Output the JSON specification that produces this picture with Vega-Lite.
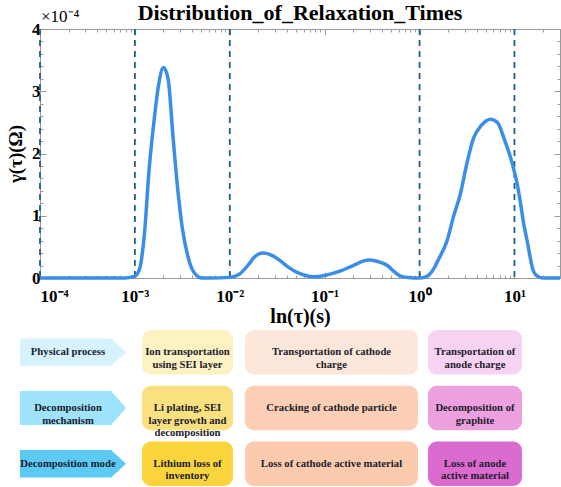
{
  "$schema": "https://vega.github.io/schema/vega-lite/v6.json",
  "background": "white",
  "padding": {"left": 6, "top": 1, "right": 0, "bottom": 0},
  "spacing": 3,
  "config": {"font": "Liberation Serif", "view": {"stroke": null}, "axis": {"grid": false}},
  "datasets": {
    "curve": [
      {"tau": 0.0001, "gamma": 0},
      {"tau": 0.000316, "gamma": 0},
      {"tau": 0.000794, "gamma": 0},
      {"tau": 0.000891, "gamma": 0.000001},
      {"tau": 0.001, "gamma": 0.000003},
      {"tau": 0.001122, "gamma": 0.000015},
      {"tau": 0.001259, "gamma": 0.00007},
      {"tau": 0.001413, "gamma": 0.000175},
      {"tau": 0.001585, "gamma": 0.00025},
      {"tau": 0.001778, "gamma": 0.00031},
      {"tau": 0.001995, "gamma": 0.000338},
      {"tau": 0.002239, "gamma": 0.00032},
      {"tau": 0.002512, "gamma": 0.00023},
      {"tau": 0.002818, "gamma": 0.000145},
      {"tau": 0.003162, "gamma": 0.00008},
      {"tau": 0.003548, "gamma": 0.00004},
      {"tau": 0.003981, "gamma": 0.000015},
      {"tau": 0.004467, "gamma": 0.000004},
      {"tau": 0.005012, "gamma": 0},
      {"tau": 0.00631, "gamma": 0},
      {"tau": 0.01, "gamma": 0.000001},
      {"tau": 0.01259, "gamma": 0.000006},
      {"tau": 0.01585, "gamma": 0.000022},
      {"tau": 0.01778, "gamma": 0.000032},
      {"tau": 0.02239, "gamma": 0.00004},
      {"tau": 0.02818, "gamma": 0.000036},
      {"tau": 0.03388, "gamma": 0.000028},
      {"tau": 0.04169, "gamma": 0.000017},
      {"tau": 0.05129, "gamma": 0.000009},
      {"tau": 0.0631, "gamma": 0.000004},
      {"tau": 0.07586, "gamma": 0.000002},
      {"tau": 0.1, "gamma": 0.000004},
      {"tau": 0.1445, "gamma": 0.000011},
      {"tau": 0.1995, "gamma": 0.00002},
      {"tau": 0.2884, "gamma": 0.000029},
      {"tau": 0.3548, "gamma": 0.000027},
      {"tau": 0.4571, "gamma": 0.00002},
      {"tau": 0.5623, "gamma": 0.000008},
      {"tau": 0.631, "gamma": 0.000003},
      {"tau": 0.7943, "gamma": 0.0000005},
      {"tau": 1, "gamma": 0},
      {"tau": 1.122, "gamma": 0.000001},
      {"tau": 1.259, "gamma": 0.000005},
      {"tau": 1.413, "gamma": 0.000015},
      {"tau": 1.585, "gamma": 0.00003},
      {"tau": 1.95, "gamma": 0.00006},
      {"tau": 2.291, "gamma": 0.0001},
      {"tau": 2.692, "gamma": 0.000135},
      {"tau": 3.162, "gamma": 0.000185},
      {"tau": 3.715, "gamma": 0.000225},
      {"tau": 4.467, "gamma": 0.000245},
      {"tau": 5.623, "gamma": 0.000255},
      {"tau": 6.607, "gamma": 0.00025},
      {"tau": 7.943, "gamma": 0.00022},
      {"tau": 9.12, "gamma": 0.000193},
      {"tau": 10, "gamma": 0.00017},
      {"tau": 10.72, "gamma": 0.00015},
      {"tau": 11.48, "gamma": 0.000124},
      {"tau": 12.59, "gamma": 0.000085},
      {"tau": 13.8, "gamma": 0.000055},
      {"tau": 14.79, "gamma": 0.00003},
      {"tau": 15.85, "gamma": 0.000011},
      {"tau": 17.78, "gamma": 0.000002},
      {"tau": 19.95, "gamma": 0},
      {"tau": 30.2, "gamma": 0}
    ],
    "bounds": [
      {"tau": 0.0001}, {"tau": 0.001}, {"tau": 0.01}, {"tau": 1}, {"tau": 10}
    ],
    "rows": [
      {"row": "Physical process", "label": "Physical process", "arrowMid": 73, "textMid": 68},
      {"row": "Decomposition mechanism", "label": "Decomposition\nmechanism", "arrowMid": 73, "textMid": 68},
      {"row": "Decomposition mode", "label": "Decomposition mode", "arrowMid": 73, "textMid": 68}
    ],
    "cells": [
      {"cell": "r1c1", "row": "Physical process", "start": 142, "end": 233, "label": "Ion transportation\nusing SEI layer"},
      {"cell": "r1c2", "row": "Physical process", "start": 245, "end": 418, "label": "Transportation of cathode\ncharge"},
      {"cell": "r1c3", "row": "Physical process", "start": 428, "end": 522, "label": "Transportation of\nanode charge"},
      {"cell": "r2c1", "row": "Decomposition mechanism", "start": 142, "end": 233, "label": "Li plating, SEI\nlayer growth and\ndecomposition"},
      {"cell": "r2c2", "row": "Decomposition mechanism", "start": 245, "end": 418, "label": "Cracking of cathode particle"},
      {"cell": "r2c3", "row": "Decomposition mechanism", "start": 428, "end": 522, "label": "Decomposition of\ngraphite"},
      {"cell": "r3c1", "row": "Decomposition mode", "start": 142, "end": 233, "label": "Lithium loss of\ninventory"},
      {"cell": "r3c2", "row": "Decomposition mode", "start": 245, "end": 418, "label": "Loss of cathode active material"},
      {"cell": "r3c3", "row": "Decomposition mode", "start": 428, "end": 522, "label": "Loss of anode\nactive material"}
    ]
  },
  "vconcat": [
    {
      "width": 520,
      "height": 249,
      "title": {"text": "Distribution_of_Relaxation_Times", "font": "Liberation Serif", "fontSize": 22, "fontWeight": "bold", "color": "#000000", "anchor": "middle", "offset": -17},
      "view": {"stroke": "#9a9a9a", "strokeWidth": 1},
      "layer": [
        {
          "data": {"name": "bounds"},
          "mark": {"type": "rule", "strokeDash": [6, 5], "strokeWidth": 1.8, "color": "#1d6383"},
          "encoding": {
            "x": {
              "field": "tau", "type": "quantitative",
              "scale": {"type": "log", "domain": [0.0001, 30.2], "nice": false},
              "axis": {
                "orient": "top", "title": null, "labels": false, "domain": false,
                "values": [0.0001,0.0002,0.0003,0.0004,0.0005,0.0006,0.0007,0.0008,0.0009,0.001,0.002,0.003,0.004,0.005,0.006,0.007,0.008,0.009,0.01,0.02,0.03,0.04,0.05,0.06,0.07,0.08,0.09,0.1,0.2,0.3,0.4,0.5,0.6,0.7,0.8,0.9,1,2,3,4,5,6,7,8,9,10,20,30],
                "tickColor": "#9a9a9a",
                "tickSize": {"condition": {"test": "datum.value==0.0001||datum.value==0.001||datum.value==0.01||datum.value==0.1||datum.value==1||datum.value==10", "value": -6}, "value": -3}
              }
            }
          }
        },
        {
          "data": {"name": "curve"},
          "mark": {"type": "line", "color": "#3b8ee8", "strokeWidth": 3.5, "interpolate": "monotone"},
          "encoding": {
            "x": {
              "field": "tau", "type": "quantitative",
              "scale": {"type": "log", "domain": [0.0001, 30.2], "nice": false},
              "axis": {
                "orient": "bottom",
                "title": "ln(τ)(s)", "titleFont": "Liberation Serif", "titleFontSize": 20, "titleFontWeight": "bold", "titleColor": "#000000", "titlePadding": 2,
                "domainColor": "#9a9a9a", "tickColor": "#9a9a9a",
                "labelFont": "Liberation Serif", "labelFontSize": 17, "labelFontWeight": "bold", "labelColor": "#000000", "labelPadding": 16,
                "values": [0.0001,0.0002,0.0003,0.0004,0.0005,0.0006,0.0007,0.0008,0.0009,0.001,0.002,0.003,0.004,0.005,0.006,0.007,0.008,0.009,0.01,0.02,0.03,0.04,0.05,0.06,0.07,0.08,0.09,0.1,0.2,0.3,0.4,0.5,0.6,0.7,0.8,0.9,1,2,3,4,5,6,7,8,9,10,20,30],
                "labelExpr": "datum.value==0.0001?'10⁻⁴':datum.value==0.001?'10⁻³':datum.value==0.01?'10⁻²':datum.value==0.1?'10⁻¹':datum.value==1?'10⁰':datum.value==10?'10¹':''",
                "tickSize": {"condition": {"test": "datum.value==0.0001||datum.value==0.001||datum.value==0.01||datum.value==0.1||datum.value==1||datum.value==10", "value": -6}, "value": -3}
              }
            },
            "y": {
              "field": "gamma", "type": "quantitative",
              "scale": {"domain": [0, 0.0004], "nice": false},
              "axis": {
                "orient": "left",
                "title": "γ(τ)(Ω)", "titleFont": "Liberation Serif", "titleFontSize": 19, "titleFontWeight": "bold", "titleColor": "#000000", "titlePadding": 6,
                "domainColor": "#9a9a9a", "tickColor": "#9a9a9a",
                "labelFont": "Liberation Serif", "labelFontSize": 17, "labelFontWeight": "bold", "labelColor": "#000000", "labelPadding": 6,
                "values": [0,0.00002,0.00004,0.00006,0.00008,0.0001,0.00012,0.00014,0.00016,0.00018,0.0002,0.00022,0.00024,0.00026,0.00028,0.0003,0.00032,0.00034,0.00036,0.00038,0.0004],
                "labelExpr": "abs(datum.value*10000-round(datum.value*10000))<0.000001 ? format(round(datum.value*10000),'d') : ''",
                "tickSize": {"condition": {"test": "abs(datum.value*10000-round(datum.value*10000))<0.000001", "value": -6}, "value": -3}
              }
            }
          }
        },
        {
          "data": {"values": [{"tau": 0.0001, "gamma": 0.0004, "label": "×10⁻⁴"}]},
          "mark": {"type": "text", "align": "left", "baseline": "bottom", "dx": 1, "dy": -3, "font": "Liberation Serif", "fontSize": 17, "color": "#000000"},
          "encoding": {
            "x": {"field": "tau", "type": "quantitative", "scale": {"type": "log", "domain": [0.0001, 30.2], "nice": false}, "axis": null},
            "y": {
              "field": "gamma", "type": "quantitative",
              "scale": {"domain": [0, 0.0004], "nice": false},
              "axis": {
                "orient": "right", "title": null, "labels": false, "domain": false, "tickColor": "#9a9a9a",
                "values": [0,0.00002,0.00004,0.00006,0.00008,0.0001,0.00012,0.00014,0.00016,0.00018,0.0002,0.00022,0.00024,0.00026,0.00028,0.0003,0.00032,0.00034,0.00036,0.00038,0.0004],
                "tickSize": {"condition": {"test": "abs(datum.value*10000-round(datum.value*10000))<0.000001", "value": -6}, "value": -3}
              }
            },
            "text": {"field": "label"}
          }
        }
      ]
    },
    {
      "width": 520,
      "height": 156,
      "view": {"stroke": null},
      "layer": [
        {
          "data": {"name": "rows"},
          "mark": {"type": "point", "filled": true, "opacity": 1, "size": 11236, "strokeWidth": 0},
          "encoding": {
            "x": {"field": "arrowMid", "type": "quantitative", "scale": {"domain": [0, 561], "range": [-40, 521]}, "axis": null},
            "y": {"field": "row", "type": "nominal", "scale": {"domain": ["Physical process", "Decomposition mechanism", "Decomposition mode"], "paddingInner": 0.2, "paddingOuter": 0}, "axis": null},
            "shape": {"field": "row", "type": "nominal", "scale": {"domain": ["Physical process", "Decomposition mechanism", "Decomposition mode"], "range": ["M-1,-0.26L0.72,-0.26L1,0L0.72,0.26L-1,0.26Z", "M-1,-0.32L0.72,-0.32L1,0L0.72,0.32L-1,0.32Z", "M-1,-0.26L0.72,-0.26L1,0L0.72,0.26L-1,0.26Z"]}, "legend": null},
            "color": {"field": "row", "type": "nominal", "scale": {"domain": ["Physical process", "Decomposition mechanism", "Decomposition mode"], "range": ["#d6f2fc", "#9fe2fb", "#5ccaf5"]}, "legend": null}
          }
        },
        {
          "data": {"name": "rows"},
          "mark": {"type": "text", "font": "Liberation Serif", "fontSize": 10.7, "fontWeight": "bold", "color": "#1c1c2c", "lineBreak": "\n", "lineHeight": 12.5},
          "encoding": {
            "x": {"field": "textMid", "type": "quantitative", "scale": {"domain": [0, 561], "range": [-40, 521]}, "axis": null},
            "y": {"field": "row", "type": "nominal", "scale": {"domain": ["Physical process", "Decomposition mechanism", "Decomposition mode"], "paddingInner": 0.2, "paddingOuter": 0}, "axis": null},
            "text": {"field": "label"}
          }
        },
        {
          "data": {"name": "cells"},
          "mark": {"type": "rect", "cornerRadius": 9},
          "encoding": {
            "x": {"field": "start", "type": "quantitative", "scale": {"domain": [0, 561], "range": [-40, 521]}, "axis": null},
            "x2": {"field": "end"},
            "y": {"field": "row", "type": "nominal", "scale": {"domain": ["Physical process", "Decomposition mechanism", "Decomposition mode"], "paddingInner": 0.2, "paddingOuter": 0}, "axis": null},
            "color": {"field": "cell", "type": "nominal", "scale": {"domain": ["r1c1", "r2c1", "r3c1", "r1c2", "r2c2", "r3c2", "r1c3", "r2c3", "r3c3"], "range": ["#fdf2c2", "#fbe07f", "#f9d43c", "#fde7da", "#fccfb6", "#fccbae", "#f7d3f3", "#eca0e0", "#dc6bd0"]}, "legend": null}
          }
        },
        {
          "data": {"name": "cells"},
          "transform": [{"calculate": "(datum.start + datum.end) / 2", "as": "mid"}],
          "mark": {"type": "text", "font": "Liberation Serif", "fontSize": 10.7, "fontWeight": "bold", "color": "#1c1c2c", "lineBreak": "\n", "lineHeight": 12.5},
          "encoding": {
            "x": {"field": "mid", "type": "quantitative", "scale": {"domain": [0, 561], "range": [-40, 521]}, "axis": null},
            "y": {"field": "row", "type": "nominal", "scale": {"domain": ["Physical process", "Decomposition mechanism", "Decomposition mode"], "paddingInner": 0.2, "paddingOuter": 0}, "axis": null},
            "text": {"field": "label"}
          }
        }
      ],
      "resolve": {"scale": {"color": "independent"}}
    }
  ]
}
